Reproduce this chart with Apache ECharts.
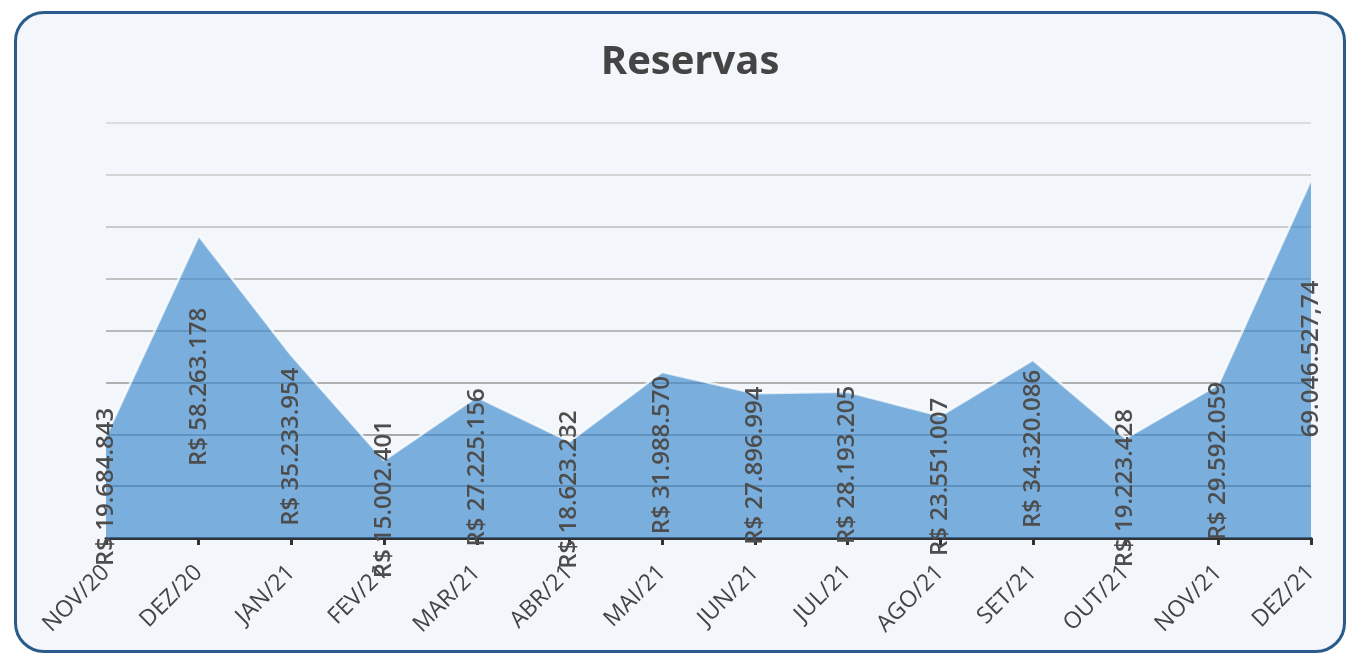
<!DOCTYPE html>
<html>
<head>
<meta charset="utf-8">
<title>Reservas</title>
<script src="https://cdn.jsdelivr.net/npm/echarts@6/dist/echarts.min.js"></script>
<style>
  html, body { margin: 0; padding: 0; background: #ffffff; }
  #card {
    position: absolute; left: 14px; top: 11px; width: 1326px; height: 636px;
    border: 3px solid #2b5b8a; border-radius: 30px; background: #f3f6fa;
  }
  #chart { position: absolute; left: 0; top: 0; width: 1348px; height: 654px; }
</style>
</head>
<body>
<div id="card"></div>
<div id="chart"></div>
<script>
// categorias (meses)
const months = ['NOV/20', 'DEZ/20', 'JAN/21', 'FEV/21', 'MAR/21', 'ABR/21', 'MAI/21',
  'JUN/21', 'JUL/21', 'AGO/21', 'SET/21', 'OUT/21', 'NOV/21', 'DEZ/21']

// valores das reservas (R$)
const reservas = [19684843, 58263178, 35233954, 15002401, 27225156, 18623232, 31988570,
  27896994, 28193205, 23551007, 34320086, 19223428, 29592059, 69046527.74]

// textos dos rótulos
const labelTexts = ['R$ 19.684.843', 'R$ 58.263.178', 'R$ 35.233.954', 'R$ 15.002.401',
  'R$ 27.225.156', 'R$ 18.623.232', 'R$ 31.988.570', 'R$ 27.896.994', 'R$ 28.193.205',
  'R$ 23.551.007', 'R$ 34.320.086', 'R$ 19.223.428', 'R$ 29.592.059', '69.046.527,74']

// cores das linhas de grade (de baixo para cima)
const gridColors = ['#999999', '#a2a2a2', '#a9a9a9', '#b0b0b0', '#b8b8b8',
  '#c2c2c2', '#cbcbcb', '#d4d4d4', '#dddddd']

const chart = echarts.init(document.getElementById('chart'))

const option = {
  backgroundColor: 'transparent',
  animation: false,
  title: {
    text: 'Reservas',
    left: 685,
    top: 38,
    textAlign: 'center',
    textStyle: {
      fontFamily: 'Open Sans',
      fontSize: 40,
      fontWeight: 'bold',
      color: '#444444'
    }
  },
  grid: {
    left: 106,
    right: 37,
    top: 123,
    bottom: 116
  },
  xAxis: {
    type: 'category',
    data: months,
    boundaryGap: false,
    axisLine: { lineStyle: { color: '#333333', width: 3 } },
    axisTick: { show: true, length: 7, lineStyle: { color: '#333333', width: 3 } },
    axisLabel: {
      rotate: 45,
      margin: 31,
      interval: 0,
      color: '#444444',
      fontFamily: 'Open Sans',
      fontSize: 23
    },
    splitLine: { show: false }
  },
  yAxis: {
    type: 'value',
    min: 0,
    max: 80000000,
    interval: 10000000,
    axisLabel: { show: false },
    axisLine: { show: false },
    axisTick: { show: false },
    splitLine: { lineStyle: { color: gridColors, width: 2 } }
  },
  series: [
    {
      name: 'Reservas',
      type: 'line',
      data: reservas,
      symbol: 'none',
      lineStyle: { color: 'rgba(255,255,255,0.75)', width: 2.5 },
      areaStyle: { color: 'rgba(57,135,204,0.65)', opacity: 1 },
      z: 2
    },
    {
      // rótulos verticais, centrados entre o valor e a base
      type: 'custom',
      data: reservas.map((v, i) => [i, v]),
      clip: false,
      z: 5,
      renderItem: (params, api) => {
        const top = api.coord([api.value(0), api.value(1)])
        const base = api.coord([api.value(0), 0])
        return {
          type: 'text',
          x: top[0],
          y: (top[1] + base[1]) / 2,
          rotation: Math.PI / 2,
          style: {
            text: labelTexts[params.dataIndex],
            align: 'center',
            verticalAlign: 'middle',
            fill: '#4d4d4d',
            fontFamily: 'Open Sans',
            fontWeight: 600,
            fontSize: 24
          }
        }
      }
    }
  ]
}

chart.setOption(option)
</script>
</body>
</html>
